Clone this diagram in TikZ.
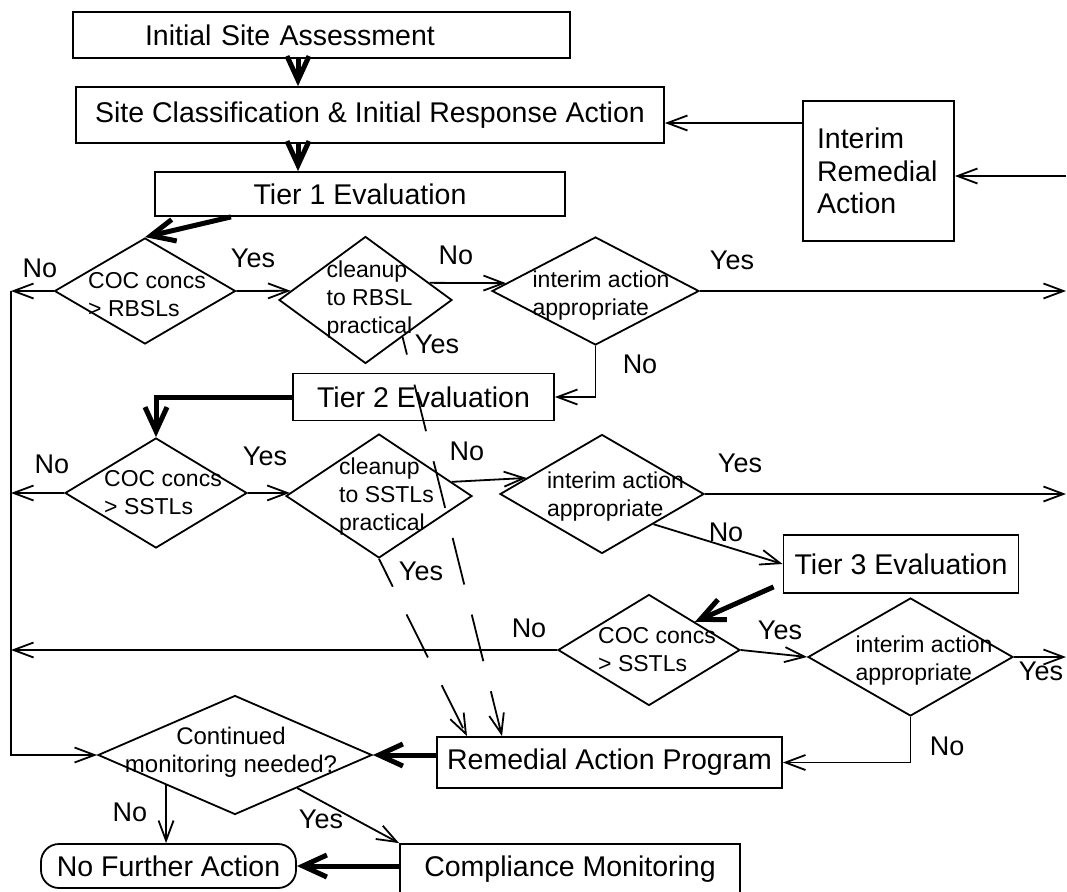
\documentclass[tikz,border=0pt]{standalone}
\usepackage{fontspec}
\setmainfont{Liberation Sans}
\usetikzlibrary{arrows.meta,shapes.geometric}

\newcommand{\boxfont}{\fontsize{28.5}{32.5}\selectfont}
\newcommand{\diafont}{\fontsize{23}{28}\selectfont}
\newcommand{\lblfont}{\fontsize{27}{30}\selectfont}

\tikzset{
  box/.style={draw, line width=1.8pt, inner sep=0pt, font=\boxfont},
  dia/.style={draw, diamond, line width=1.8pt, inner sep=0pt},
  dtext/.style={font=\diafont, align=left, inner sep=0pt},
  flow/.style={line width=1.8pt, -{Straight Barb[length=20pt,width=15pt]}},
  bigflow/.style={line width=5pt, -{Straight Barb[length=24pt,width=22pt]}},
  broken/.style={flow, dash pattern=on 48pt off 31pt},
  lbl/.style={font=\lblfont, inner sep=0pt, anchor=base}
}

\begin{document}
\begin{tikzpicture}[x=1pt,y=-1pt]
        \useasboundingbox (0,0) rectangle (1067,891);

        % 左右两侧的汇合线
        \coordinate (lx) at (11,0);
        \coordinate (rx) at (1066,0);

        % 绘制方框
        \node[box, minimum width=497pt, minimum height=46pt, text width=353pt, align=left] (isa) at (321.5,35) {Initial Site Assessment};
        \node[box, minimum width=588pt, minimum height=56pt] (sc) at (370,115) {Site Classification \& Initial Response Action};
        \node[box, minimum width=410pt, minimum height=44pt] (t1) at (360,194) {Tier 1 Evaluation};
        \node[box, minimum width=151pt, minimum height=140pt, text width=123pt, align=left] (ira) at (878.5,171) {Interim\\Remedial\\Action};
        \node[box, minimum width=261pt, minimum height=47pt] (t2) at (423.5,397) {Tier 2 Evaluation};
        \node[box, minimum width=235pt, minimum height=58pt] (t3) at (901,564) {Tier 3 Evaluation};
        \node[box, minimum width=345pt, minimum height=51pt] (rap) at (609.5,762.5) {Remedial Action Program};
        \node[box, minimum width=340pt, minimum height=50pt] (cm) at (570,869) {Compliance Monitoring};
        \node[box, rounded corners=18pt, minimum width=255pt, minimum height=44pt] (nfa) at (168.5,866) {No Further Action};

        % 绘制判断菱形
        \node[dia, minimum width=181pt, minimum height=106pt, label={[dtext,xshift=2pt,yshift=-4pt]center:COC concs\\> RBSLs}] (d1) at (145,291) {};
        \node[dia, minimum width=173pt, minimum height=127pt, label={[dtext,xshift=4pt]center:cleanup\\to RBSL\\practical}] (c1) at (365.5,300) {};
        \node[dia, minimum width=207pt, minimum height=108pt, label={[dtext,xshift=5.5pt,yshift=-5pt]center:interim action\\appropriate}] (i1) at (595.5,291) {};
        \node[dia, minimum width=182pt, minimum height=110pt, label={[dtext,xshift=7pt]center:COC concs\\> SSTLs}] (d2) at (156,493) {};
        \node[dia, minimum width=186pt, minimum height=124pt, label={[dtext,xshift=7.5pt,yshift=-1pt]center:cleanup\\to SSTLs\\practical}] (c2) at (379,496) {};
        \node[dia, minimum width=204pt, minimum height=119pt, label={[dtext,xshift=13.5pt,yshift=-3pt]center:interim action\\appropriate}] (i2) at (602,494) {};
        \node[dia, minimum width=182pt, minimum height=111pt, label={[dtext,xshift=8pt]center:COC concs\\> SSTLs}] (d3) at (649,650) {};
        \node[dia, minimum width=205pt, minimum height=118pt, label={[dtext,xshift=13.5pt,yshift=-4pt]center:interim action\\appropriate}] (i3) at (910.5,657) {};
        \node[dia, minimum width=274pt, minimum height=119pt, label={[dtext,font=\fontsize{24}{28}\selectfont,align=center,xshift=-4pt,yshift=3pt]center:Continued\\monitoring needed?}] (d4) at (235,755) {};

        % 主流程（粗箭头）
        \draw[bigflow] ([xshift=-23.5pt]isa.south) -- ([xshift=-23.5pt]isa.south |- sc.north);
        \draw[bigflow] ([xshift=-72pt]sc.south) -- ([xshift=-72pt]sc.south |- t1.north);
        \draw[bigflow] ([xshift=-129pt]t1.south) -- (d1.north);
        \draw[bigflow] (t2.west) -| (d2.north);
        \draw[bigflow] ([xshift=-9pt,yshift=7pt]t3.south west) -- (d3.north east);
        \draw[bigflow] (rap.west |- d4.east) -- (d4.east);
        \draw[bigflow] (cm.west |- nfa.east) -- (nfa.east);

        % 分支（细箭头）
        \foreach \n in {d1,d2,d3}
        {
          \draw[flow] (\n.west) -- (\n.west -| lx);
        }
        \foreach \n in {i1,i2,i3}
        {
          \draw[flow] (\n.east) -- (\n.east -| rx);
        }
        \draw[flow] (d1.west -| lx) -- (d4.west -| lx) -- (d4.west);
        \draw[flow] (d1.east) -- (c1.173);
        \draw[flow] (c1.15) -- (i1.175);
        \draw[flow] (i1.south) |- (t2.east);
        \draw[flow] (d2.east) -- (c2.178);
        \draw[flow] (c2.11) -- (i2.168);
        \draw[flow] (i2.south east) -- (t3.west);
        \draw[flow] (d3.east) -- (i3.west);
        \draw[flow] (i3.south) |- (rap.east);
        \draw[flow] (d4.south west) -- (d4.south west |- nfa.north);
        \draw[flow] (d4.-28) -- (cm.north west);

        % 临时补救措施的回路
        \coordinate (scin) at ([yshift=-8pt]sc.east);
        \coordinate (irain) at ([yshift=-5pt]ira.east);
        \draw[flow] (scin -| ira.west) -- (scin);
        \draw[flow] (irain -| rx) -- (irain);

        % 通往补救方案的断续线
        \draw[broken, dash phase=30pt] (c1.-45) -- ([xshift=-107.5pt]rap.north);
        \draw[broken, dash phase=17pt] (c2.south) -- ([xshift=-142.5pt]rap.north);

        % 标记 Yes / No
        \foreach \x/\y/\t [count=\i] in {40/277/No, 253/267/Yes, 456/264/No, 437/353/Yes,
            732/269/Yes, 640/373/No, 52/473/No, 265/465/Yes, 467/460/No, 421/580/Yes,
            740/472/Yes, 726/541/No, 529/637/No, 780/639/Yes, 1041/680/Yes, 947/755/No,
            130/821/No, 321/828/Yes}
        {
          \node[lbl] (lab\i) at (\x,\y) {\t};
        }

    \end{tikzpicture}
\end{document}
